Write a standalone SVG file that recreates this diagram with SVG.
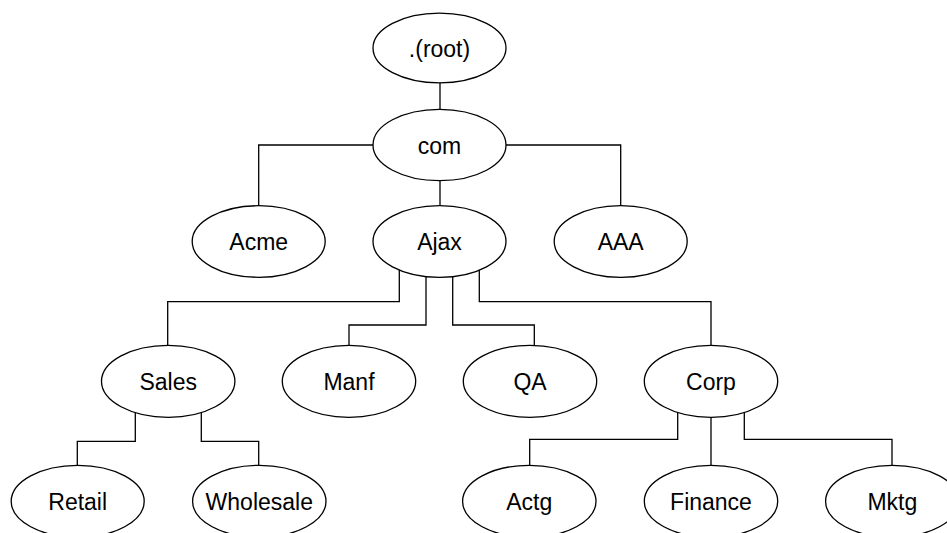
<svg xmlns="http://www.w3.org/2000/svg" width="947" height="533" viewBox="0 0 947 533">
<style>
.n ellipse{fill:#fff;stroke:#000;stroke-width:1.3}
.n text{font-family:"Liberation Sans",Arial,sans-serif;font-size:23px;fill:#000;text-anchor:middle}
#edges path{fill:none;stroke:#000;stroke-width:1.3}
</style>
<rect width="947" height="533" fill="#fff"/>
<g id="edges">
<path d="M440 48V145"/>
<path d="M440 145H258.7V241.5"/>
<path d="M440 145H620.7V241.5"/>
<path d="M440 145V241.5"/>
<path d="M399.3 241.5V301.7H167.7V381.3"/>
<path d="M426 241.5V325H349V381.3"/>
<path d="M452.7 241.5V325H534.3V381.3"/>
<path d="M479.3 241.5V301.7H711V381.3"/>
<path d="M135.3 381.3V441.3H77.3V501.3"/>
<path d="M201.3 381.3V441.3H258.7V501.3"/>
<path d="M677.7 381.3V439.3H529.7V501.3"/>
<path d="M711 381.3V501.3"/>
<path d="M744.3 381.3V439.3H892V501.3"/>
</g>
<g id="root" class="n"><ellipse cx="439.5" cy="48" rx="66.5" ry="34.8"/><text x="439.5" y="56.5">.(root)</text></g>
<g id="com" class="n"><ellipse cx="439.5" cy="145" rx="66.5" ry="35.7"/><text x="439.5" y="153.5">com</text></g>
<g id="acme" class="n"><ellipse cx="258.7" cy="241.5" rx="66.5" ry="35.8"/><text x="258.7" y="250">Acme</text></g>
<g id="ajax" class="n"><ellipse cx="439.5" cy="241.5" rx="66.5" ry="35.8"/><text x="439.5" y="250">Ajax</text></g>
<g id="aaa" class="n"><ellipse cx="620.7" cy="241.5" rx="66.5" ry="35.8"/><text x="620.7" y="250">AAA</text></g>
<g id="sales" class="n"><ellipse cx="168.2" cy="381.3" rx="66.7" ry="36"/><text x="168.2" y="389.8">Sales</text></g>
<g id="manf" class="n"><ellipse cx="349" cy="381.3" rx="66.7" ry="36"/><text x="349" y="389.8">Manf</text></g>
<g id="qa" class="n"><ellipse cx="530" cy="381.3" rx="66.7" ry="36"/><text x="530" y="389.8">QA</text></g>
<g id="corp" class="n"><ellipse cx="711" cy="381.3" rx="66.7" ry="36"/><text x="711" y="389.8">Corp</text></g>
<g id="retail" class="n"><ellipse cx="77.7" cy="501.3" rx="66.5" ry="36"/><text x="77.7" y="509.8">Retail</text></g>
<g id="wholesale" class="n"><ellipse cx="259.3" cy="501.3" rx="66.7" ry="36"/><text x="259.3" y="509.8">Wholesale</text></g>
<g id="actg" class="n"><ellipse cx="529.3" cy="501.3" rx="66.7" ry="36"/><text x="529.3" y="509.8">Actg</text></g>
<g id="finance" class="n"><ellipse cx="711" cy="501.3" rx="66.7" ry="36"/><text x="711" y="509.8">Finance</text></g>
<g id="mktg" class="n"><ellipse cx="892.3" cy="501.3" rx="66.7" ry="36"/><text x="892.3" y="509.8">Mktg</text></g>
</svg>
